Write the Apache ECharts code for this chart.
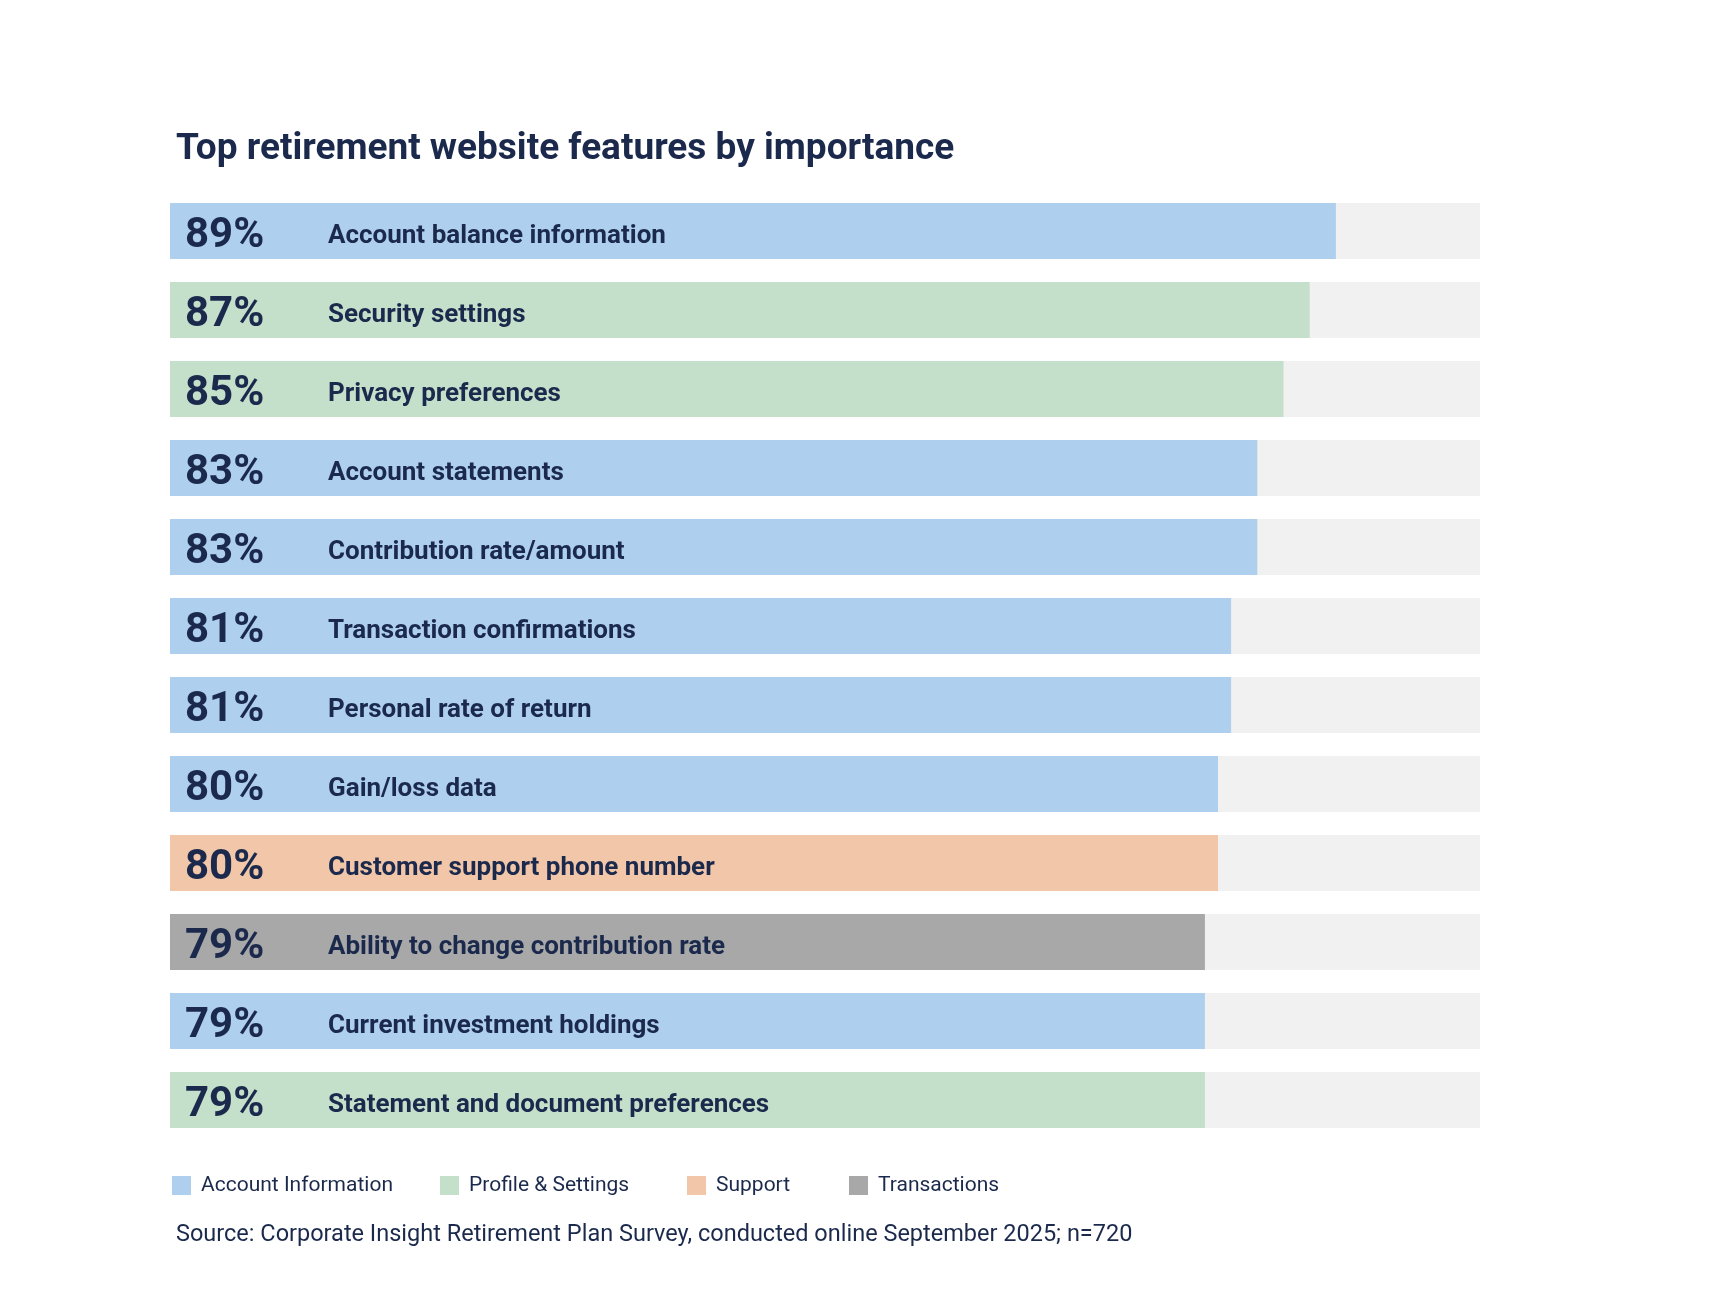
<!DOCTYPE html>
<html>
<head>
<meta charset="utf-8">
<script src="https://cdn.jsdelivr.net/npm/echarts@6/dist/echarts.min.js"></script>
<style>
html,body{margin:0;padding:0;background:#ffffff;}
#chart{width:1724px;height:1300px;}
</style>
</head>
<body>
<div id="chart"></div>
<script>
var categories = [
  'Account balance information',
  'Security settings',
  'Privacy preferences',
  'Account statements',
  'Contribution rate/amount',
  'Transaction confirmations',
  'Personal rate of return',
  'Gain/loss data',
  'Customer support phone number',
  'Ability to change contribution rate',
  'Current investment holdings',
  'Statement and document preferences'
];
var values = [89, 87, 85, 83, 83, 81, 81, 80, 80, 79, 79, 79];
var groups = [
  'Account Information', 'Profile & Settings', 'Profile & Settings', 'Account Information',
  'Account Information', 'Account Information', 'Account Information', 'Account Information',
  'Support', 'Transactions', 'Account Information', 'Profile & Settings'
];
var groupNames = ['Account Information', 'Profile & Settings', 'Support', 'Transactions'];
var groupColors = {
  'Account Information': '#aecfee',
  'Profile & Settings': '#c4e0cb',
  'Support': '#f2c6a8',
  'Transactions': '#a8a8a8'
};
var trackValues = [100, 100, 100, 100, 100, 100, 100, 100, 100, 100, 100, 100];

var navy = '#1b2a4c';
var chart = echarts.init(document.getElementById('chart'));

var legendSeries = groupNames.map(function (g) {
  return { name: g, type: 'line', data: [], itemStyle: { color: groupColors[g] }, lineStyle: { color: groupColors[g] } };
});
var legendLefts = [172, 440, 687, 849];
var legends = groupNames.map(function (g, i) {
  return {
    data: [g],
    left: legendLefts[i], top: 1175,
    padding: 0,
    icon: 'rect',
    itemWidth: 19, itemHeight: 19,
    textStyle: { fontFamily: 'Roboto', fontSize: 21, color: navy, padding: [0, 0, 0, 5] }
  };
});

chart.setOption({
  backgroundColor: '#ffffff',
  animation: false,
  title: [
    {
      text: 'Top retirement website features by importance',
      left: 171, top: 126,
      textStyle: { fontFamily: 'Roboto', fontWeight: 'bold', fontSize: 37, color: navy }
    },
    {
      text: 'Source: Corporate Insight Retirement Plan Survey, conducted online September 2025; n=720',
      left: 171, top: 1218,
      textStyle: { fontFamily: 'Roboto', fontWeight: 'normal', fontSize: 23.5, color: navy }
    }
  ],
  legend: legends,
  grid: { left: 170, right: 244, top: 191.5, bottom: 160.5, containLabel: false },
  xAxis: { type: 'value', min: 0, max: 100, show: false },
  yAxis: {
    type: 'category', inverse: true, data: categories, show: false,
    axisLine: { show: false }, axisTick: { show: false }, axisLabel: { show: false }
  },
  series: [
    {
      name: 'track', type: 'bar', data: trackValues, barWidth: 56, silent: true,
      itemStyle: { color: '#f1f1f1' }, z: 1
    },
    {
      name: 'value', type: 'bar', barWidth: 56, barGap: '-100%', z: 2,
      data: values.map(function (v, i) {
        return { value: v, itemStyle: { color: groupColors[groups[i]] } };
      }),
      label: {
        show: true, position: 'insideLeft', distance: 15, offset: [0, 5],
        formatter: function (p) {
          return '{p|' + p.value + '%}{n|' + categories[p.dataIndex] + '}';
        },
        rich: {
          p: { fontFamily: 'Roboto', fontWeight: 'bold', fontSize: 42, color: navy, width: 143 },
          n: { fontFamily: 'Roboto', fontWeight: 'bold', fontSize: 26, color: navy }
        }
      }
    }
  ].concat(legendSeries)
});
</script>
</body>
</html>
